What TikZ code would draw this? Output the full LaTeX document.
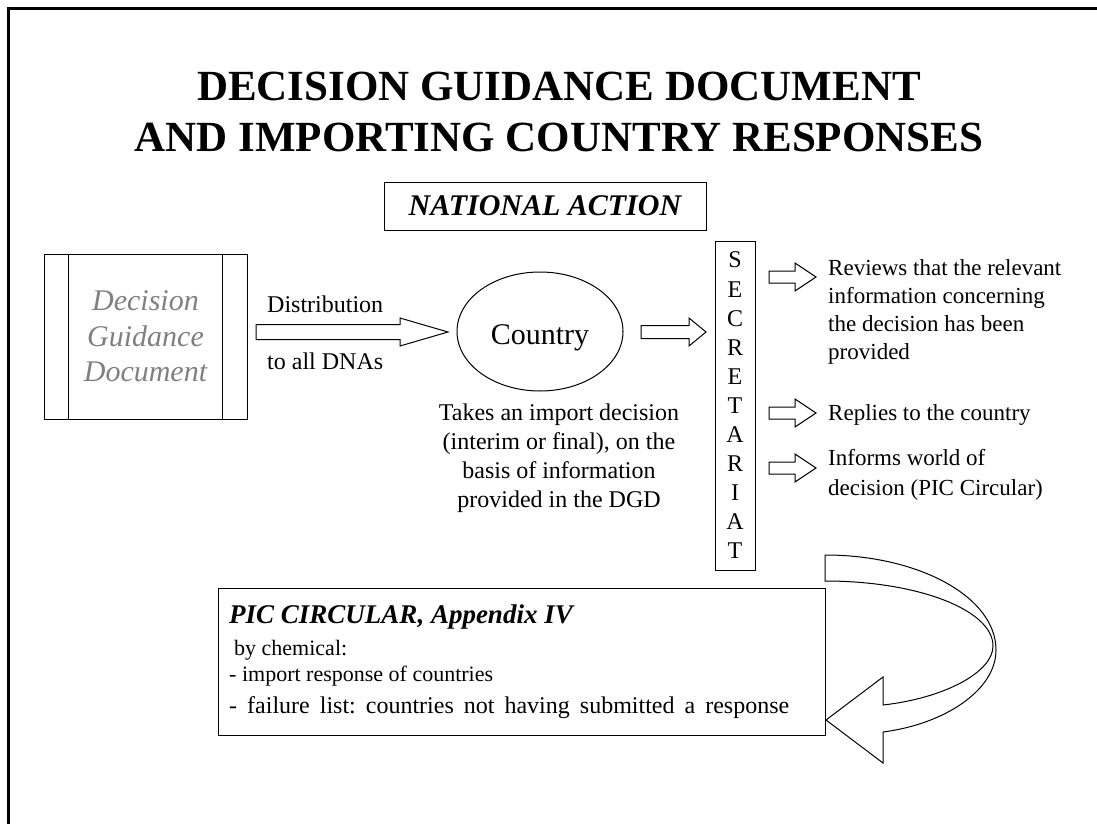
\documentclass[tikz,border=0pt]{standalone}
\usepackage{fontspec}
\setmainfont{Liberation Serif}
\usetikzlibrary{shapes.geometric,calc}
\frenchspacing
\definecolor{dgdgray}{HTML}{808080}
\newcommand\blockarrow[5]{%
  \draw[blk] let \p1=(#1), \p2=(#2) in
    (\x1,\y1+#4pt) -- (\x2-#3pt,\y1+#4pt) -- (\x2-#3pt,\y1+#5pt) -- (\x2,\y1)
    -- (\x2-#3pt,\y1-#5pt) -- (\x2-#3pt,\y1-#4pt) -- (\x1,\y1-#4pt) -- cycle;}
\begin{document}
\begin{tikzpicture}[x=1pt,y=-1pt,line join=miter,
  blk/.style={draw=black,fill=white,line width=1pt},
  box/.style={draw=black,line width=1pt,inner sep=0pt},
  txt/.style={inner sep=0pt},
  f24/.style={font=\fontsize{24}{29}\selectfont},
  f23/.style={font=\fontsize{23}{28}\selectfont},
  f22/.style={font=\fontsize{22}{27}\selectfont}]
\useasboundingbox (0,0) rectangle (1097,824);
% partial frame
\coordinate (fa) at (8.5,824);
\coordinate (fb) at (8.5,8.5);
\coordinate (fc) at (1097,8.5);
\draw[line width=3pt] (fa) -- (fb) -- (fc);
% title
\node[txt,anchor=north,align=center,font=\bfseries\fontsize{43}{51}\selectfont] (title) at (559,72)
  {DECISION GUIDANCE DOCUMENT\\AND IMPORTING COUNTRY RESPONSES};
\node[box,minimum width=322,minimum height=48,font=\bfseries\itshape\fontsize{30}{36}\selectfont] (na) at (545,206) {NATIONAL ACTION};
% DGD
\node[box,minimum width=203,minimum height=165,align=center,text=dgdgray,font=\itshape\fontsize{30}{35.5}\selectfont] (dgd) at (145.5,336.5)
  {Decision\\Guidance\\Document};
\draw[line width=1pt] ($(dgd.north west)+(25,0)$) -- ($(dgd.south west)+(25,0)$);
\draw[line width=1pt] ($(dgd.north east)+(-25,0)$) -- ($(dgd.south east)+(-25,0)$);
\node[txt,f24,anchor=base west] (dist) at (267,312) {Distribution};
\node[txt,f24,anchor=base west] (dnas) at (267,369) {to all DNAs};
% country
\node[draw,ellipse,line width=1pt,minimum width=166,minimum height=119,inner sep=0pt] (country) at (540,331.5) {};
\node[txt,anchor=base,font=\fontsize{30}{36}\selectfont] (countrylbl) at ($(country.center)+(0,12.5)$) {Country};
\node[txt,f24,anchor=north,align=center] (takes) at (559,403.6)
  {Takes an import decision\\(interim or final), on the\\basis of information\\provided in the DGD};
% secretariat
\node[box,minimum width=40,minimum height=329,align=center,font=\fontsize{24}{29.1}\selectfont] (sec) at (735,405.5)
  {S\\E\\C\\R\\E\\T\\A\\R\\I\\A\\T};
% block arrows
\coordinate (a1s) at (256,332); \coordinate (a1e) at (448,332);
\coordinate (a2s) at (641,332); \coordinate (a2e) at (706,332);
\coordinate (a3s) at (769,277); \coordinate (a3e) at (816,277);
\coordinate (a4s) at (769,413); \coordinate (a4e) at (816,413);
\coordinate (a5s) at (769,468); \coordinate (a5e) at (816,468);
\blockarrow{a1s}{a1e}{48}{7.5}{14}
\blockarrow{a2s}{a2e}{17}{6.5}{14}
\blockarrow{a3s}{a3e}{21}{6}{14}
\blockarrow{a4s}{a4e}{21}{6}{14}
\blockarrow{a5s}{a5e}{21}{6}{14}
% right texts
\node[txt,f23,anchor=north west,align=left] (rev) at (828,259.3)
  {Reviews that the relevant\\information concerning\\the decision has been\\provided};
\node[txt,f23,anchor=base west] (rep) at (828,420) {Replies to the country};
\node[txt,anchor=north west,align=left,font=\fontsize{23}{30}\selectfont] (inf) at (828,449.3)
  {Informs world of\\decision (PIC Circular)};
% PIC circular box
\node[box,minimum width=607,minimum height=147] (pic) at (521.5,661.5) {};
\node[txt,anchor=base west,font=\bfseries\itshape\fontsize{27}{32}\selectfont] (pict) at (229,623) {PIC CIRCULAR, Appendix IV};
\node[txt,f22,anchor=base west] (picb) at (234,655) {by chemical:};
\node[txt,f22,anchor=base west] (picc) at (229,681) {- import response of countries};
\node[txt,f24,anchor=base west] (picd) at (229,713) {\makebox[560pt][s]{- failure list: countries not having submitted a response}};
% curved arrow
\coordinate (ca) at (825,555);
\coordinate (tip) at (826,720);
\draw[blk] (ca) .. controls (919,555) and (996,597) .. (996,650)
  .. controls (996,690) and (945,724) .. (883,732)
  -- (883,763) -- (tip) -- (883,677) -- (883,705)
  .. controls (945,698) and (993,672) .. (993,646)
  .. controls (993,610) and (918,581) .. (825,581) -- cycle;
\end{tikzpicture}
\end{document}
